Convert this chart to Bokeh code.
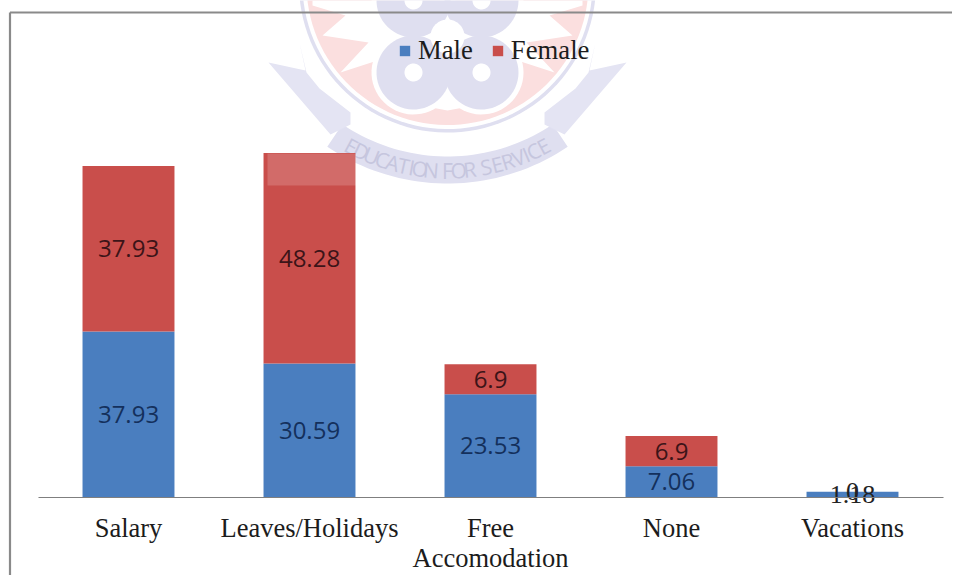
import numpy as np
from bokeh.plotting import figure
from bokeh.models import ColumnDataSource, Range1d, FixedTicker, LinearAxis, Legend, LegendItem, CDSView, IndexFilter
from bokeh.core.properties import value
from bokeh.embed import file_html
from bokeh.resources import INLINE

categories = ["Salary", "Leaves/Holidays", "Free\nAccomodation", "None", "Vacations"]
male = [37.93, 30.59, 23.53, 7.06, 1.18]
female = [37.93, 48.28, 6.9, 6.9, 0]
series_names = ["Male", "Female"]

BLUE = "#4a7ebf"
RED = "#c94e4b"
W, H = 952, 575
PX_PER_UNIT = 4.363
PX_PER_CAT = 181.0
x0_c, y0_c = 128.0, 496.5   # position of the first category / baseline

p = figure(width=W, height=H, output_backend="svg", toolbar_location=None,
           x_axis_type=None, y_axis_type=None,
           x_range=Range1d(1 - x0_c / PX_PER_CAT, 1 + (W - x0_c) / PX_PER_CAT),
           y_range=Range1d((y0_c - H) / PX_PER_UNIT, y0_c / PX_PER_UNIT),
           min_border=0, min_border_left=0, min_border_right=0, min_border_top=0, min_border_bottom=0,
           outline_line_color=None, background_fill_color="white", border_fill_color="white")
p.grid.visible = False

# pixel ranges for the watermark crest and the picture frame
p.extra_x_ranges["px"] = Range1d(0, W)
p.extra_y_ranges["px"] = Range1d(H, 0)
PX = dict(x_range_name="px", y_range_name="px")

# ---- watermark crest (decoration) ----
CREST_RED = "#fbdfdf"
CREST_BLUE = "#dfdff0"
CREST_TAIL = "#e4e4f3"
CREST_TEXT = "#c6c6de"
CX = 447.0


def mirror(pts):
    return [(2 * CX - x, y) for x, y in reversed(pts)]


def circle(cx, cy, r, n=60):
    t = np.linspace(0, 2 * np.pi, n)
    return list(cx + r * np.cos(t)), list(cy + r * np.sin(t))


# outer ring + red disk
xs, ys = circle(CX, -16.4, 148.5, 120)
p.patch(xs, ys, fill_color=CREST_BLUE, line_color=None, **PX)
xs, ys = circle(CX, -16.4, 145, 120)
p.patch(xs, ys, fill_color="white", line_color=None, **PX)
xs, ys = circle(CX, -16.4, 141, 120)
p.patch(xs, ys, fill_color=CREST_RED, line_color=None, **PX)

# white star
half = [(312, 5), (345, 15), (322, 35), (368, 42), (340, 72), (377, 60), (393, 100), (447, 110)]
star = [(312, 0)] + half + mirror(half) + [(582, 0)]
p.patch([a for a, _ in star], [b for _, b in star], fill_color="white", line_color=None, **PX)

# adinkra quatrefoil
for cx, cy in [(413, 72), (481, 72), (413, 0), (481, 0)]:
    xs, ys = circle(cx, cy, 42)
    p.patch(xs, ys, fill_color="white", line_color=None, **PX)
for cx, cy in [(413, 72), (481, 72), (413, 0), (481, 0)]:
    xs, ys = circle(cx, cy, 37)
    p.patch(xs, ys, fill_color=CREST_BLUE, line_color=None, **PX)
    xs, ys = circle(cx, cy, 9)
    p.patch(xs, ys, fill_color="white", line_color=None, **PX)
xs, ys = circle(CX, 36, 17)
p.patch(xs, ys, fill_color="white", line_color=None, **PX)

# ribbon: arced banner
ang = np.radians(np.linspace(-34, 34, 40))
RC = -32.0
outer = [(CX + 215 * np.sin(a), RC + 215 * np.cos(a)) for a in ang]
inner = [(CX + 188 * np.sin(a), RC + 188 * np.cos(a)) for a in ang[::-1]]
band = outer + inner
p.patch([a for a, _ in band], [b for _, b in band], fill_color=CREST_BLUE, line_color=None, **PX)

# ribbon: swallow tails
tail = [(268, 62), (305, 70), (299, 42), (306, 72), (319, 88), (350, 112), (350, 124), (330, 134)]
for poly in (tail, mirror(tail)):
    p.patch([a for a, _ in poly], [b for _, b in poly], fill_color=CREST_TAIL, line_color=None, **PX)

# curved motto, one character at a time
motto = "EDUCATION FOR SERVICE"
adv = np.array([0.32 if c in " I" else 0.68 for c in motto])
cum = np.cumsum(adv) - adv / 2
theta = (cum / adv.sum() - 0.5) * np.radians(60)
R_TXT = 202.0
p.text(x=list(CX + R_TXT * np.sin(theta)), y=list(RC + R_TXT * np.cos(theta)),
       text=list(motto), angle=list(theta), text_align="center", text_baseline="middle",
       text_font=value("Open Sans"), text_font_size="21px", text_color=CREST_TEXT, **PX)

# picture frame
p.segment(x0=[9.5, 9.5], y0=[12, 12], x1=[9.5, 960], y1=[583, 12],
          line_color="#8a8a8a", line_width=2.2, **PX)

# ---- bars ----
xpos = list(range(1, len(categories) + 1))
male_arr, female_arr = np.array(male), np.array(female)
src = ColumnDataSource(dict(
    x=xpos, Male=male, Female=female,
    male_mid=list(male_arr / 2), female_mid=list(male_arr + female_arr / 2),
    male_txt=[f"{v:g}" for v in male], female_txt=[f"{v:g}" for v in female],
))
bars = p.vbar_stack(series_names, x="x", width=0.508, color=[BLUE, RED], line_color=None, source=src)

# pale ribbon crossing the top of the second bar
p.quad(left=[267], right=[356], top=[153], bottom=[185], fill_color="white", fill_alpha=0.17,
       line_color=None, **PX)

# ---- axis ----
first_lines = [c.split("\n")[0] for c in categories]
ax = LinearAxis(fixed_location=0, ticker=FixedTicker(ticks=xpos),
                major_label_overrides=dict(zip(xpos, first_lines)),
                bounds=(0.5, 5.5),
                axis_line_color="#7f7f7f", axis_line_width=1.2,
                major_tick_line_color=None, minor_tick_line_color=None,
                major_label_standoff=10,
                major_label_text_font="Liberation Serif", major_label_text_font_size="26.5px",
                major_label_text_color="#1c1c1c")
p.add_layout(ax, "below")

# second lines of wrapped category labels
for xp, c in zip(xpos, categories):
    if "\n" in c:
        p.text(x=[xp], y=[(y0_c - 557) / PX_PER_UNIT], text=[c.split("\n")[1]],
               text_align="center", text_baseline="middle",
               text_font=value("Liberation Serif"), text_font_size="26.5px", text_color="#1c1c1c")

# ---- data labels ----
lab = dict(x="x", source=src, text_align="center", text_baseline="middle")
main = list(range(len(categories) - 1))
v_main = CDSView(filter=IndexFilter(main))
v_last = CDSView(filter=IndexFilter([len(categories) - 1]))
sans = dict(text_font=value("Open Sans"), text_font_size="24px", view=v_main)
serif = dict(text_font=value("Liberation Serif"), text_font_size="26px", text_color="#222222", view=v_last)
p.text(y="male_mid", text="male_txt", text_color="#14305c", **lab, **sans)
p.text(y="female_mid", text="female_txt", text_color="#3c1418", **lab, **sans)
p.text(y="male_mid", text="male_txt", **lab, **serif)
p.text(y="female_mid", text="female_txt", **lab, **serif)

# ---- legend ----
legend = Legend(items=[LegendItem(label=n, renderers=[r]) for n, r in zip(series_names, bars)],
                orientation="horizontal", location=(398, 509),
                background_fill_alpha=0, border_line_color=None,
                label_text_font="Liberation Serif", label_text_font_size="26.7px",
                label_text_color="#1c1c1c", glyph_width=13, glyph_height=13,
                label_standoff=7, spacing=18, padding=5, margin=0)
p.add_layout(legend, "center")

open("out.html", "w").write(file_html(p, INLINE))
